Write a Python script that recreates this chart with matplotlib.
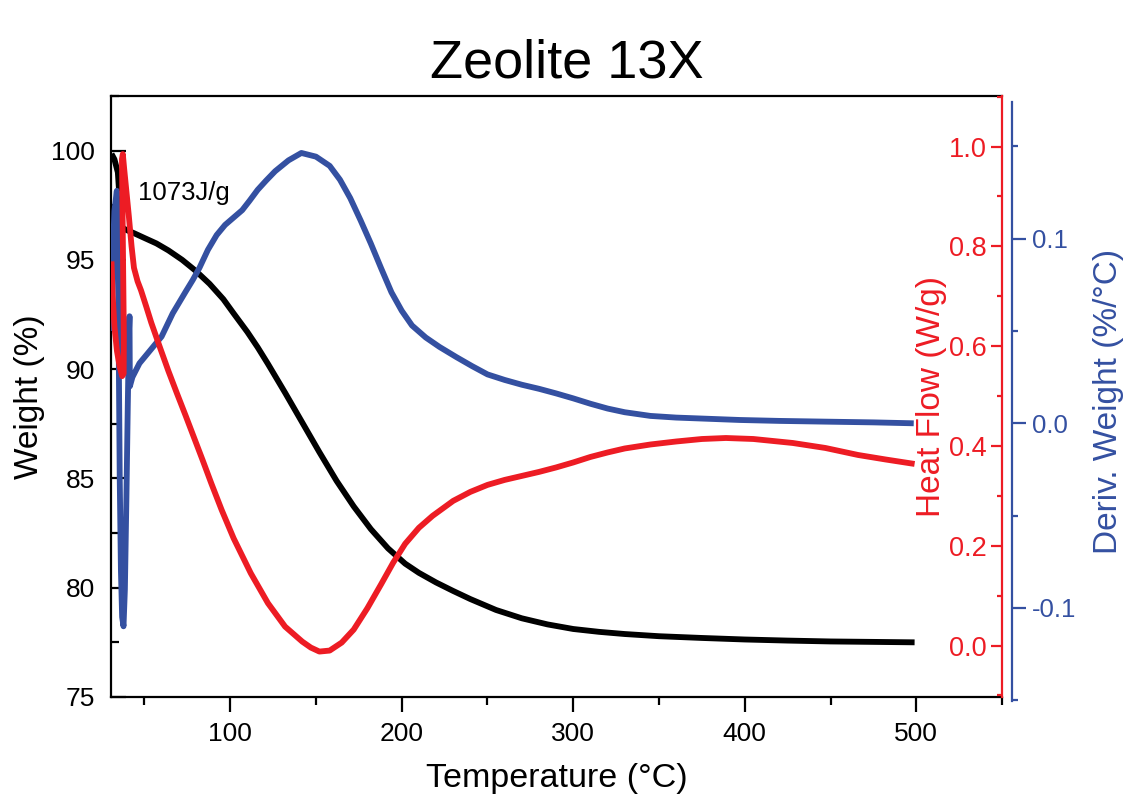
import matplotlib
matplotlib.use('Agg')
import matplotlib.pyplot as plt
from matplotlib.ticker import MultipleLocator

plt.rcParams['font.family'] = ['Liberation Sans', 'DejaVu Sans']
plt.rcParams['axes.unicode_minus'] = False

# TGA weight curve (black)
temp_w = [30.8, 32.5, 34.5, 35.5, 36.2, 37.5, 40, 43.9, 50, 57, 64, 72, 80, 88, 96,
          102, 110, 116, 122, 132, 142, 152, 162, 172, 182, 192, 202, 210, 220, 230,
          240, 255, 270, 285, 300, 315, 330, 350, 375, 400, 425, 450, 475, 499]
weight = [99.85, 99.6, 99.0, 97.8, 96.7, 96.45, 96.35, 96.22, 96.0, 95.75, 95.43, 95.0,
          94.49, 93.9, 93.2, 92.55, 91.7, 91.0, 90.24, 88.92, 87.56, 86.2, 84.89, 83.72,
          82.68, 81.8, 81.1, 80.68, 80.24, 79.85, 79.48, 78.98, 78.6, 78.32, 78.11,
          77.98, 77.88, 77.78, 77.7, 77.63, 77.58, 77.54, 77.52, 77.5]

# DSC heat flow (red)
temp_hf = [30.8, 31.5, 32.5, 34, 35.5, 37, 37.9, 38.0, 37.6, 37.2, 36.9, 37.4, 38.2,
           39.5, 40.9, 42.5, 43.9, 46, 48, 51, 54, 59, 64, 69, 74, 79, 84, 89, 95,
           102, 112, 122, 132, 142, 147, 152, 158, 165, 172, 180, 188, 195, 202, 210,
           218, 230, 240, 250, 260, 270, 280, 290, 300, 310, 320, 330, 345, 360, 375,
           389, 405, 428, 447, 466, 482, 499]
heat_flow = [0.77, 0.70, 0.64, 0.59, 0.56, 0.54, 0.545, 0.62, 0.75, 0.88, 0.975, 0.985,
             0.955, 0.91, 0.861, 0.80, 0.757, 0.73, 0.712, 0.68, 0.647, 0.598, 0.55,
             0.505, 0.461, 0.416, 0.371, 0.325, 0.272, 0.215, 0.145, 0.085, 0.038, 0.008,
             -0.004, -0.012, -0.01, 0.006, 0.032, 0.075, 0.123, 0.166, 0.204, 0.236,
             0.26, 0.29, 0.308, 0.322, 0.332, 0.34, 0.348, 0.357, 0.367, 0.378, 0.387,
             0.395, 0.403, 0.409, 0.414, 0.416, 0.414, 0.406, 0.396, 0.382, 0.373, 0.364]

# derivative weight (blue)
temp_d = [30.8, 31.5, 32.5, 33.9, 34.6, 35.1, 35.6, 36.3, 37.0, 37.8, 38.6, 39.5, 40.3,
          41.0, 41.3, 41.5, 43, 47.1, 52, 56.8, 60, 66.5, 74, 78.2, 82.1, 87, 92.1, 97,
          102, 107, 111.2, 116, 120.9, 126.2, 134, 141.5, 150, 158, 164, 170, 176, 182,
          188, 194, 200, 206, 214, 222, 232, 241, 250, 260, 270, 280, 290, 300,
          310, 320, 330, 345, 360, 380, 397, 420, 447, 475, 498.5]
deriv = [0.05, 0.09, 0.115, 0.126, 0.09, 0.03, -0.03, -0.08, -0.105, -0.11, -0.09, -0.04,
         0.01, 0.05, 0.058, 0.02, 0.025, 0.0325, 0.038, 0.0434, 0.047, 0.0596, 0.0713,
         0.0777, 0.0843, 0.094, 0.102, 0.1075, 0.1115, 0.1155, 0.1205, 0.1265, 0.1315,
         0.1366, 0.1425, 0.1465, 0.1445, 0.1395, 0.132, 0.122, 0.110, 0.0974, 0.084,
         0.071, 0.061, 0.053, 0.0465, 0.0414, 0.0358, 0.031, 0.0265, 0.0235, 0.0209,
         0.0187, 0.0162, 0.0135, 0.0106, 0.008, 0.006, 0.004, 0.0031, 0.0024, 0.0018,
         0.0013, 0.0009, 0.0005, 0.0]

RED = '#ED1C24'
BLUE = '#3450A1'

fig = plt.figure(figsize=(11.43, 8.11), dpi=100)
ax = fig.add_axes([0.0968, 0.1406, 0.7799, 0.7414])
ax_d = fig.add_axes([0.0968, 0.1356, 0.7799, 0.7386], sharex=ax)
ax_hf = ax.twinx()

line_kw = dict(lw=4.2, solid_joinstyle='round', solid_capstyle='butt')

# weight axis
ax.plot(temp_w, weight, color='black', **line_kw)
ax.set_xlim(30.3, 550)
ax.set_ylim(75, 102.51)
ax.xaxis.set_major_locator(MultipleLocator(100))
ax.xaxis.set_minor_locator(MultipleLocator(50))
ax.yaxis.set_major_locator(MultipleLocator(5))
ax.yaxis.set_minor_locator(MultipleLocator(2.5))
ax.tick_params(axis='y', which='both', direction='in', width=1.6, labelsize=19, pad=11)
ax.tick_params(axis='y', which='major', length=10.8)
ax.tick_params(axis='y', which='minor', length=5.8)
ax.tick_params(axis='x', which='both', direction='out', width=1.6, labelsize=19, pad=7)
ax.tick_params(axis='x', which='major', length=10.8)
ax.tick_params(axis='x', which='minor', length=5.8)
ax.spines['right'].set_visible(False)
for s in ['left', 'top', 'bottom']:
    ax.spines[s].set_linewidth(1.6)
ax.set_ylabel('Weight (%)', fontsize=24)
ax.yaxis.set_label_coords(-0.0736, 0.5)
ax.set_xlabel('Temperature (°C)', fontsize=24.5)
ax.xaxis.set_label_coords(0.5, -0.11)
ax.text(46, 97.74, '1073J/g', fontsize=18.5, va='baseline')

# derivative axis (outer right, blue)
ax_d.plot(temp_d, deriv, color=BLUE, **line_kw)
ax_d.set_ylim(-0.1505, 0.1741)
ax_d.patch.set_visible(False)
ax_d.xaxis.set_visible(False)
for s in ['left', 'top', 'bottom']:
    ax_d.spines[s].set_visible(False)
ax_d.spines['right'].set_position(('outward', 6.8))
ax_d.spines['right'].set_color(BLUE)
ax_d.spines['right'].set_linewidth(1.6)
ax_d.yaxis.tick_right()
ax_d.yaxis.set_label_position('right')
ax_d.yaxis.set_major_locator(MultipleLocator(0.1))
ax_d.yaxis.set_minor_locator(MultipleLocator(0.05))
ax_d.tick_params(axis='y', which='both', direction='out', colors=BLUE, width=1.6,
                 labelsize=18.5, pad=5)
ax_d.tick_params(axis='y', which='major', length=10)
ax_d.tick_params(axis='y', which='minor', length=4.3)
ax_d.set_ylabel('Deriv. Weight (%/°C)', fontsize=24, color=BLUE)
ax_d.yaxis.set_label_coords(1.119, 0.5)
ax_d.yaxis.label.set_va('center')

# heat flow axis (red), labels inside the frame
ax_hf.plot(temp_hf, heat_flow, color=RED, **line_kw)
ax_hf.set_ylim(-0.103, 1.102)
ax_hf.yaxis.set_major_locator(MultipleLocator(0.2))
ax_hf.yaxis.set_minor_locator(MultipleLocator(0.1))
for s in ['left', 'top', 'bottom']:
    ax_hf.spines[s].set_visible(False)
ax_hf.spines['right'].set_color(RED)
ax_hf.spines['right'].set_linewidth(1.6)
ax_hf.tick_params(axis='y', which='both', direction='in', colors=RED, width=1.6,
                  labelsize=19.5, pad=-10.8)
ax_hf.tick_params(axis='y', which='major', length=7.9)
ax_hf.tick_params(axis='y', which='minor', length=3.6)
plt.setp(ax_hf.get_yticklabels(), ha='right')
ax_hf.set_ylabel('Heat Flow (W/g)', fontsize=24, color=RED)
ax_hf.yaxis.set_label_coords(0.921, 0.5)
ax_hf.yaxis.label.set_va('center')

fig.text(0.4956, 0.905, 'Zeolite 13X', ha='center', va='baseline', fontsize=39)

fig.savefig('out.png', dpi=100)
